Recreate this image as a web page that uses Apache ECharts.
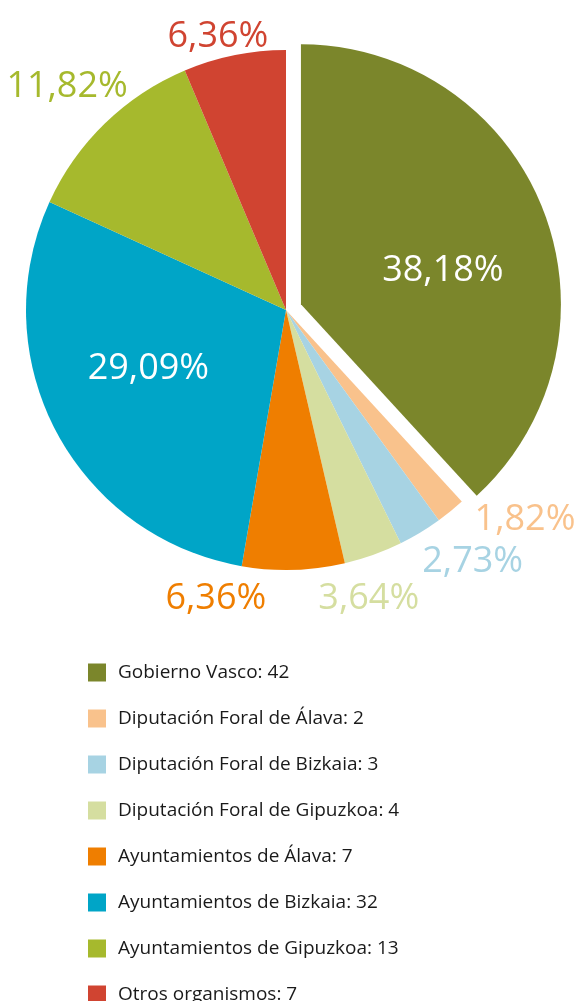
<!DOCTYPE html>
<html>
<head>
<meta charset="utf-8">
<script src="https://cdn.jsdelivr.net/npm/echarts@6/dist/echarts.min.js"></script>
<style>
  html, body { margin: 0; padding: 0; background: #fff; }
  #chart { width: 578px; height: 1001px; }
</style>
</head>
<body>
<div id="chart"></div>
<script>
// Data
const names = [
  'Gobierno Vasco',
  'Diputación Foral de Álava',
  'Diputación Foral de Bizkaia',
  'Diputación Foral de Gipuzkoa',
  'Ayuntamientos de Álava',
  'Ayuntamientos de Bizkaia',
  'Ayuntamientos de Gipuzkoa',
  'Otros organismos'
];
const counts = [42, 2, 3, 4, 7, 32, 13, 7];
const percentLabels = ['38,18%', '1,82%', '2,73%', '3,64%', '6,36%', '29,09%', '11,82%', '6,36%'];

// Styling
const colors = ['#7b862b', '#f9c28c', '#a7d3e3', '#d5dea0', '#ef7e00', '#00a5c7', '#a6b92d', '#d04431'];
const insideLabel = [true, false, false, false, false, true, false, false];
const labelShift = [[12, 1], [19, 8], [-3, 29], [-60, 44], [-133, 29], [-20, -3], [28, -37], [39, -18]];

const FONT = '"Open Sans", "DejaVu Sans", sans-serif';

const chart = echarts.init(document.getElementById('chart'), null, { renderer: 'canvas' });

const seriesData = names.map((name, i) => {
  const lbl = {
    position: insideLabel[i] ? 'inside' : 'outside',
    color: insideLabel[i] ? '#ffffff' : colors[i],
    fontSize: 36,
    fontFamily: FONT,
    offset: labelShift[i],
    formatter: () => percentLabels[i]
  };
  return {
    name: name,
    value: counts[i],
    selected: i === 0,
    itemStyle: { color: colors[i] },
    label: lbl,
    select: { itemStyle: { color: colors[i] }, label: lbl }
  };
});

chart.setOption({
  animation: false,
  legend: {
    orient: 'vertical',
    left: 88,
    top: 663,
    height: 400,
    padding: 0,
    itemWidth: 18,
    itemHeight: 18,
    itemGap: 27,
    icon: 'rect',
    selectedMode: false,
    data: names,
    formatter: name => name + ': ' + counts[names.indexOf(name)],
    textStyle: {
      fontFamily: FONT,
      fontSize: 19,
      color: '#1a1a1a',
      padding: [0, 0, 0, 7]
    }
  },
  series: [{
    type: 'pie',
    center: [286, 310],
    radius: 260,
    startAngle: 90,
    clockwise: true,
    selectedMode: 'single',
    selectedOffset: 16,
    avoidLabelOverlap: false,
    label: {
      show: true,
      fontFamily: FONT,
      distanceToLabelLine: 5
    },
    labelLine: { show: false, length: 0, length2: 0 },
    itemStyle: { borderWidth: 0 },
    emphasis: { scale: false, disabled: true },
    data: seriesData
  }]
});
</script>
</body>
</html>
